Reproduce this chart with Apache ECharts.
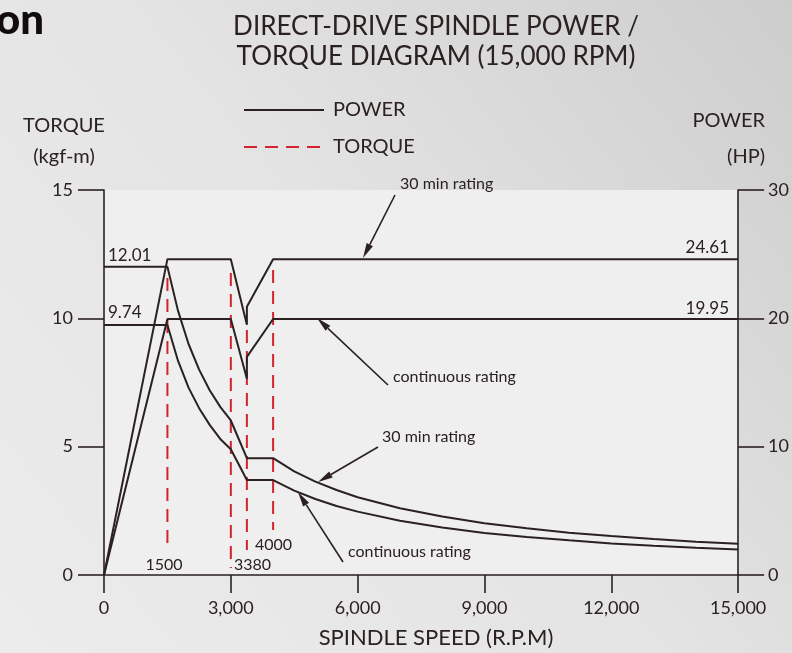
<!DOCTYPE html>
<html>
<head>
<meta charset="utf-8">
<script src="https://cdn.jsdelivr.net/npm/echarts@6/dist/echarts.min.js"></script>
<style>
  html, body { margin: 0; padding: 0; }
  #chart { width: 792px; height: 653px; }
</style>
</head>
<body>
<div id="chart"></div>
<script>
// data ----------------------------------------------------------
const powerRpm = [0, 1500, 3000, 3380, 3380, 4000, 15000];
const power30min = [0, 24.61, 24.61, 19.5, 20.9, 24.61, 24.61];
const powerCont = [0, 19.95, 19.95, 15.3, 17.0, 19.95, 19.95];

const torqueRpm = [0, 1500, 1750, 2000, 2250, 2500, 2750, 3000, 3380, 4000, 4500, 5000, 5500, 6000, 7000, 8000, 9000, 10000, 11000, 12000, 13000, 14000, 15000];
const torque30min = [12.01, 12.01, 10.3, 9.0, 8.0, 7.2, 6.55, 6.02, 4.55, 4.55, 4.04, 3.64, 3.31, 3.03, 2.6, 2.28, 2.02, 1.82, 1.65, 1.52, 1.4, 1.3, 1.22];
const torqueCont = [9.74, 9.74, 8.35, 7.3, 6.5, 5.85, 5.3, 4.9, 3.7, 3.7, 3.29, 2.96, 2.69, 2.47, 2.11, 1.85, 1.64, 1.48, 1.35, 1.23, 1.14, 1.06, 0.99];

// red dashed speed markers (torque units)
const markerRpm = [1500, 3000, 3380, 4000];
const markerTop = [11.57, 11.77, 9.55, 11.88];
const markerBottom = [0.97, 0.27, 0.97, 1.75];

const ink = "#2a2120";
const red = "#d2232e";
const font = "Lato";

const zip = (xs, ys) => xs.map((x, i) => [x, ys[i]]);

// arrow with a narrow filled head
function arrow(x1, y1, x2, y2) {
  const ang = Math.atan2(y2 - y1, x2 - x1);
  const len = 15, w = 3.5;
  const bx = x2 - len * Math.cos(ang), by = y2 - len * Math.sin(ang);
  const px = -Math.sin(ang) * w, py = Math.cos(ang) * w;
  return [
    { type: "line", shape: { x1, y1, x2: bx, y2: by }, style: { stroke: ink, lineWidth: 1.6 } },
    { type: "polygon", shape: { points: [[x2, y2], [bx + px, by + py], [bx - px, by - py]] }, style: { fill: ink } },
  ];
}

function txt(text, x, y, size, align, extra) {
  return {
    type: "text",
    style: Object.assign({
      text, x, y, fill: ink, font: `${size}px ${font}`,
      align: align || "left", verticalAlign: "middle",
    }, extra || {}),
  };
}

const chart = echarts.init(document.getElementById("chart"));

const markerSeries = markerRpm.map((r, i) => ({
  name: "TORQUE",
  type: "line",
  yAxisIndex: 0,
  data: [[r, markerTop[i]], [r, markerBottom[i]]],
  symbol: "none",
  lineStyle: { color: red, width: 2, type: [13, 8] },
  itemStyle: { color: red },
  z: 1,
}));

chart.setOption({
  animation: false,
  backgroundColor: {
    type: "linear", x: 0, y: 1, x2: 1, y2: 0,
    colorStops: [
      { offset: 0, color: "#ececec" },
      { offset: 0.5, color: "#e4e4e4" },
      { offset: 1, color: "#cdcdcd" },
    ],
  },
  grid: {
    left: 104, right: 52, top: 190, bottom: 78,
    show: true, backgroundColor: "#efefef", borderWidth: 0,
  },
  legend: {
    data: ["POWER", "TORQUE"],
    orient: "vertical",
    left: 238, top: 95,
    itemWidth: 80, itemHeight: 14, itemGap: 17,
    itemStyle: { opacity: 0 },
    lineStyle: { width: 2 },
    textStyle: { fontFamily: font, fontSize: 20, color: ink, padding: [0, 0, 0, 4] },
  },
  xAxis: {
    type: "value", min: 0, max: 15000, interval: 3000,
    axisLine: { lineStyle: { color: ink, width: 1.6 } },
    axisTick: { length: 18, lineStyle: { color: ink, width: 1.6 } },
    axisLabel: {
      margin: 24, fontFamily: font, fontSize: 18, color: ink,
      formatter: (v) => v.toLocaleString("en-US"),
    },
    splitLine: { show: false },
  },
  yAxis: [
    {
      type: "value", min: 0, max: 15, interval: 5,
      axisLine: { show: true, lineStyle: { color: ink, width: 1.6 } },
      axisTick: { show: true, length: 26, lineStyle: { color: ink, width: 1.6 } },
      axisLabel: { margin: 31, fontFamily: font, fontSize: 18, color: ink },
      splitLine: { show: false },
    },
    {
      type: "value", min: 0, max: 30, interval: 10,
      axisLine: { show: true, lineStyle: { color: ink, width: 1.6 } },
      axisTick: { show: true, length: 26, lineStyle: { color: ink, width: 1.6 } },
      axisLabel: { margin: 30, fontFamily: font, fontSize: 18, color: ink },
      splitLine: { show: false },
    },
  ],
  series: [
    {
      name: "POWER", type: "line", yAxisIndex: 1,
      data: zip(powerRpm, power30min), symbol: "none",
      lineStyle: { color: ink, width: 2 }, itemStyle: { color: ink }, z: 3,
    },
    {
      name: "POWER", type: "line", yAxisIndex: 1,
      data: zip(powerRpm, powerCont), symbol: "none",
      lineStyle: { color: ink, width: 2 }, itemStyle: { color: ink }, z: 3,
    },
    {
      name: "torque 30 min", type: "line", yAxisIndex: 0,
      data: zip(torqueRpm, torque30min), symbol: "none",
      lineStyle: { color: ink, width: 2 }, z: 3,
    },
    {
      name: "torque continuous", type: "line", yAxisIndex: 0,
      data: zip(torqueRpm, torqueCont), symbol: "none",
      lineStyle: { color: ink, width: 2 }, z: 3,
    },
    ...markerSeries,
  ],
  graphic: [
    txt("on", -4, 20, 40, "left", { font: `900 42px ${font}`, fill: "#120c0c" }),
    txt("DIRECT-DRIVE SPINDLE POWER /", 436, 27, 26, "center"),
    txt("TORQUE DIAGRAM (15,000 RPM)", 436, 57, 26, "center"),
    txt("TORQUE", 64, 126, 20, "center"),
    txt("(kgf-m)", 64, 157, 20, "center"),
    txt("POWER", 765, 121, 20, "right"),
    txt("(HP)", 765, 157, 20, "right"),
    txt("SPINDLE SPEED (R.P.M)", 436, 638, 22, "center"),
    txt("12.01", 108, 256, 17, "left"),
    txt("9.74", 108, 313, 17, "left"),
    txt("24.61", 729, 248, 17, "right"),
    txt("19.95", 729, 309, 17, "right"),
    txt("1500", 164, 565, 16, "center"),
    txt("3380", 234, 565, 16, "left"),
    txt("4000", 255, 545, 16, "left"),
    txt("30 min rating", 400, 184, 16, "left"),
    txt("continuous rating", 393, 377, 16, "left"),
    txt("30 min rating", 382, 437, 16, "left"),
    txt("continuous rating", 348, 552, 16, "left"),
    ...arrow(395, 195, 363, 258),
    ...arrow(388, 385, 317, 318),
    ...arrow(378, 447, 318, 482),
    ...arrow(343, 562, 298, 492),
  ],
});
</script>
</body>
</html>
